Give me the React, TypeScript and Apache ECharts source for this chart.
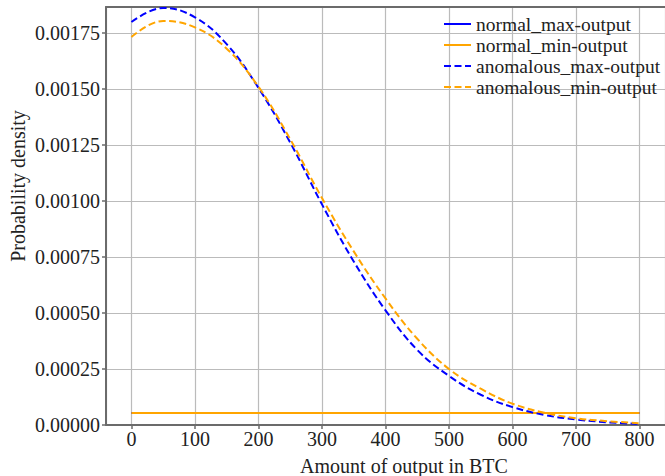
import React, { useEffect, useRef } from "react";
import * as echarts from "echarts";

const X_ANOMALOUS = [0, 50, 100, 150, 200, 250, 300, 350, 400, 450, 500, 550, 600, 650, 700, 750, 800];
const ANOMALOUS_MAX = [
  0.001799, 0.001862, 0.00182, 0.0017, 0.001505, 0.001261, 0.000985, 0.00073, 0.000512,
  0.000335, 0.000219, 0.000135, 0.00008, 0.000045, 0.000025, 0.000012, 0.0000045,
];
const ANOMALOUS_MIN = [
  0.001732, 0.001804, 0.001775, 0.00168, 0.00151, 0.001276, 0.001013, 0.000775, 0.000565,
  0.000385, 0.00025, 0.000162, 0.000095, 0.000055, 0.00003, 0.000017, 0.000008,
];
const X_NORMAL = [0, 800];
const NORMAL_MAX = [0.0000535, 0.0000535];
const NORMAL_MIN = [0.0000535, 0.0000535];

const SERIES_NAMES = ["normal_max-output", "normal_min-output", "anomalous_max-output", "anomalous_min-output"];
const X_TITLE = "Amount of output in BTC";
const Y_TITLE = "Probability density";

const FONT = "Liberation Serif";
const TEXT = "#222";
const AXIS = "#6b6b6b";
const GRID = "#bbbbbb";
const BLUE = "#0000ff";
const ORANGE = "#ffa500";

const pairs = (xs: number[], ys: number[]) => xs.map((x, i) => [x, ys[i]]);

export default function App() {
  const ref = useRef<HTMLDivElement>(null);
  useEffect(() => {
    document.body.style.margin = "0";
    if (!ref.current) return;
    const chart = echarts.init(ref.current, null, { renderer: "svg" });
    const dash = [7, 3.5];
    chart.setOption({
      animation: false,
      backgroundColor: "#fff",
      textStyle: { fontFamily: FONT },
      grid: { left: 106, right: 0, top: 7, bottom: 51 },
      legend: {
        orient: "vertical",
        left: 438,
        top: 9,
        itemWidth: 27,
        itemHeight: 14,
        itemGap: 1,
        data: SERIES_NAMES,
        itemStyle: { opacity: 0 },
        textStyle: { fontSize: 19.5, fontFamily: FONT, color: TEXT, lineHeight: 20 },
      },
      xAxis: [
        {
          type: "value",
          min: -40,
          max: 840,
          splitNumber: 9,
          axisLine: { show: true, onZero: false, lineStyle: { color: AXIS, width: 2 } },
          axisTick: { show: true, length: 4, lineStyle: { color: AXIS, width: 1.5 } },
          axisLabel: {
            showMinLabel: false,
            showMaxLabel: false,
            margin: 4,
            fontSize: 20,
            fontFamily: FONT,
            color: TEXT,
            formatter: (v: number) => String(Math.round(v) + 0),
          },
          splitLine: { show: true, lineStyle: { color: GRID, width: 1.2 } },
        },
        {
          type: "value",
          position: "top",
          min: -40,
          max: 840,
          axisLine: { show: true, onZero: false, lineStyle: { color: AXIS, width: 2 } },
          axisTick: { show: false },
          axisLabel: { show: false },
          splitLine: { show: false },
        },
      ],
      yAxis: {
        type: "value",
        min: 0,
        max: 0.001866,
        interval: 0.00025,
        axisLine: { show: true, onZero: false, lineStyle: { color: AXIS, width: 2 } },
        axisTick: { show: true, length: 4, lineStyle: { color: AXIS, width: 1.5 } },
        axisLabel: {
          showMaxLabel: false,
          margin: 6,
          fontSize: 20,
          fontFamily: FONT,
          color: TEXT,
          formatter: (v: number) => v.toFixed(5),
        },
        splitLine: { show: true, lineStyle: { color: GRID, width: 1.2 } },
      },
      graphic: [
        {
          type: "text",
          x: 404,
          y: 466,
          style: {
            text: X_TITLE,
            fontSize: 20,
            fontFamily: FONT,
            fill: TEXT,
            textAlign: "center",
            textVerticalAlign: "middle",
          },
        },
        {
          type: "text",
          x: 18,
          y: 186,
          rotation: Math.PI / 2,
          style: {
            text: Y_TITLE,
            fontSize: 20,
            fontFamily: FONT,
            fill: TEXT,
            textAlign: "center",
            textVerticalAlign: "middle",
          },
        },
      ],
      series: [
        {
          name: SERIES_NAMES[0],
          type: "line",
          data: pairs(X_NORMAL, NORMAL_MAX),
          symbol: "none",
          lineStyle: { color: BLUE, width: 2 },
          itemStyle: { color: BLUE },
        },
        {
          name: SERIES_NAMES[1],
          type: "line",
          data: pairs(X_NORMAL, NORMAL_MIN),
          symbol: "none",
          lineStyle: { color: ORANGE, width: 2 },
          itemStyle: { color: ORANGE },
        },
        {
          name: SERIES_NAMES[2],
          type: "line",
          data: pairs(X_ANOMALOUS, ANOMALOUS_MAX),
          symbol: "none",
          smooth: 0.4,
          lineStyle: { color: BLUE, width: 2, type: dash },
          itemStyle: { color: BLUE },
        },
        {
          name: SERIES_NAMES[3],
          type: "line",
          data: pairs(X_ANOMALOUS, ANOMALOUS_MIN),
          symbol: "none",
          smooth: 0.4,
          lineStyle: { color: ORANGE, width: 2, type: dash },
          itemStyle: { color: ORANGE },
        },
      ],
    });
    return () => chart.dispose();
  }, []);
  return <div ref={ref} style={{ width: 665, height: 476 }} />;
}
